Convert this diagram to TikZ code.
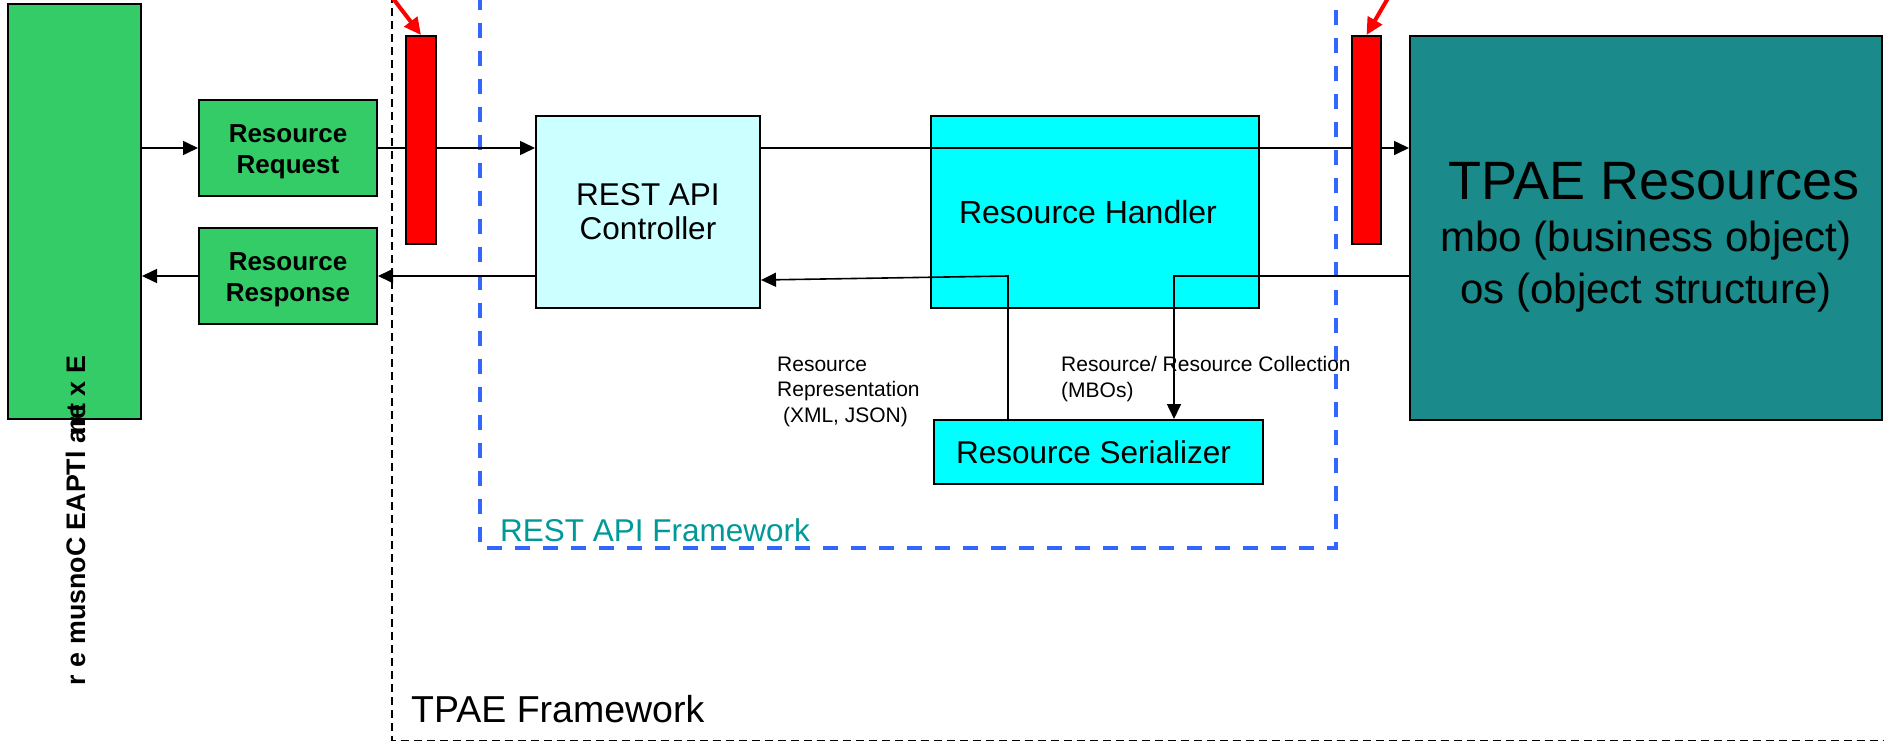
\documentclass[tikz,border=0pt]{standalone}
\usepackage{fontspec}
\setmainfont{Liberation Sans}
\usetikzlibrary{arrows.meta}
\definecolor{exegreen}{RGB}{51,204,102}
\definecolor{ctrlcyan}{RGB}{204,255,255}
\definecolor{handcyan}{RGB}{0,255,255}
\definecolor{tpaeteal}{RGB}{26,138,138}
\definecolor{fwteal}{RGB}{0,153,153}
\definecolor{fwblue}{RGB}{51,102,255}
\newcommand{\fsz}[2]{\fontsize{#1pt}{#2pt}\selectfont}
\begin{document}
\begin{tikzpicture}[x=1pt,y=-1pt,
  box/.style={draw=black,line width=2pt,inner sep=0pt,align=center},
  conn/.style={line width=1.6pt,-{Triangle[length=15pt,width=14pt]}},
  redbar/.style={draw=black,line width=2pt,fill=red,inner sep=0pt,minimum width=30pt,minimum height=208pt},
  redarr/.style={red,line width=4pt,-{Triangle[length=17pt,width=16pt]}},
  boldtxt/.style={inner sep=0pt,align=center,font=\bfseries\fsz{26}{31}},
  lbl/.style={inner sep=0pt,align=left,font=\fsz{21}{25.5}}]
\useasboundingbox (0,0) rectangle (1884,742);
\fill[white] (0,0) rectangle (1884,742);
% frameworks
\draw[black,line width=1.5pt,dash pattern=on 8pt off 5pt] (392,-5) -- (392,740.5) -- (1890,740.5);
\draw[fwblue,line width=4pt,dash pattern=on 15pt off 13pt] (480,-5) -- (480,548) -- (1336,548) -- (1336,-5);
\node[inner sep=0pt,anchor=base west,text=fwteal,font=\fsz{31.5}{36}] (restfw) at (500,541.7) {REST API Framework};
\node[inner sep=0pt,anchor=base west,font=\fsz{37.5}{42}] (tpaefw) at (411,722.7) {TPAE Framework};
% boxes
\node[box,fill=exegreen,minimum width=133pt,minimum height=415pt] (exe) at (74.5,211.5) {};
\node[rotate=90,anchor=base,inner sep=0pt,font=\bfseries\fsz{26.8}{30}] (exetxt) at (85,520.5) {r e musnoC EAPTl a\kern-.2em n\kern-.35em r\kern-.1em e\kern-.3em t x E};
\node[box,fill=exegreen,minimum width=178pt,minimum height=96pt] (req) at (288,148) {};
\node[boldtxt] (reqtxt) at ([yshift=-4pt]req.center) {Resource\\Request};
\node[box,fill=exegreen,minimum width=178pt,minimum height=96pt] (resp) at (288,276) {};
\node[boldtxt] (resptxt) at ([yshift=-4pt]resp.center) {Resource\\Response};
\node[box,fill=ctrlcyan,minimum width=224pt,minimum height=192pt,font=\fsz{31.5}{34}] (ctrl) at (648,212) {REST API\\Controller};
\node[box,fill=handcyan,minimum width=328pt,minimum height=192pt,font=\fsz{32}{38}] (hand) at (1095,212) {\hbox{Resource Handler\kern14pt}};
\node[box,fill=handcyan,minimum width=329pt,minimum height=64pt,font=\fsz{31.5}{36}] (ser) at (1098.5,452) {\hbox{Resource Serializer\kern10pt}};
\node[box,fill=tpaeteal,minimum width=472pt,minimum height=384pt] (tpae) at (1646,228) {};
\node[inner sep=0pt,anchor=north,align=center,font=\fsz{42}{52}] (tpaetxt) at (1646,162) {{\fsz{54}{60}\hspace*{16pt}TPAE Resources}\\mbo (business object)\\os (object structure)};
% labels
\node[lbl,anchor=north west] (replbl) at (777,356.5) {Resource\\Representation\\\hspace*{5.8pt}(XML, JSON)};
\node[lbl,anchor=north west] (collbl) at (1061,356.5) {Resource/ Resource Collection\\(MBOs)};
% connectors
\draw[conn] (exe.east |- req.west) -- (req.west);
\draw[conn] (req.east) -- (ctrl.west |- req.east);
\draw[conn] (ctrl.east |- req.east) -- (tpae.west |- req.east);
\draw[conn] (ctrl.west |- resp.east) -- (resp.east);
\draw[conn] (resp.west) -- (exe.east |- resp.west);
\draw[conn] (tpae.west |- resp.east) -| ([xshift=75.5pt]ser.north);
\draw[conn] ([xshift=-90.5pt]ser.north) -- ([xshift=-90.5pt]ser.north |- resp.east) -- (ctrl.east |- 0,280);
% red bars
\node[redbar] (redL) at (421,140) {};
\node[redbar,minimum width=29pt] (redR) at (1366.5,140) {};
\coordinate (rlA) at (386.5,-10);
\coordinate (rrA) at (1392.7,-10);
\draw[redarr] (rlA) -- (redL.north);
\draw[redarr] (rrA) -- (redR.north);
\end{tikzpicture}
\end{document}
